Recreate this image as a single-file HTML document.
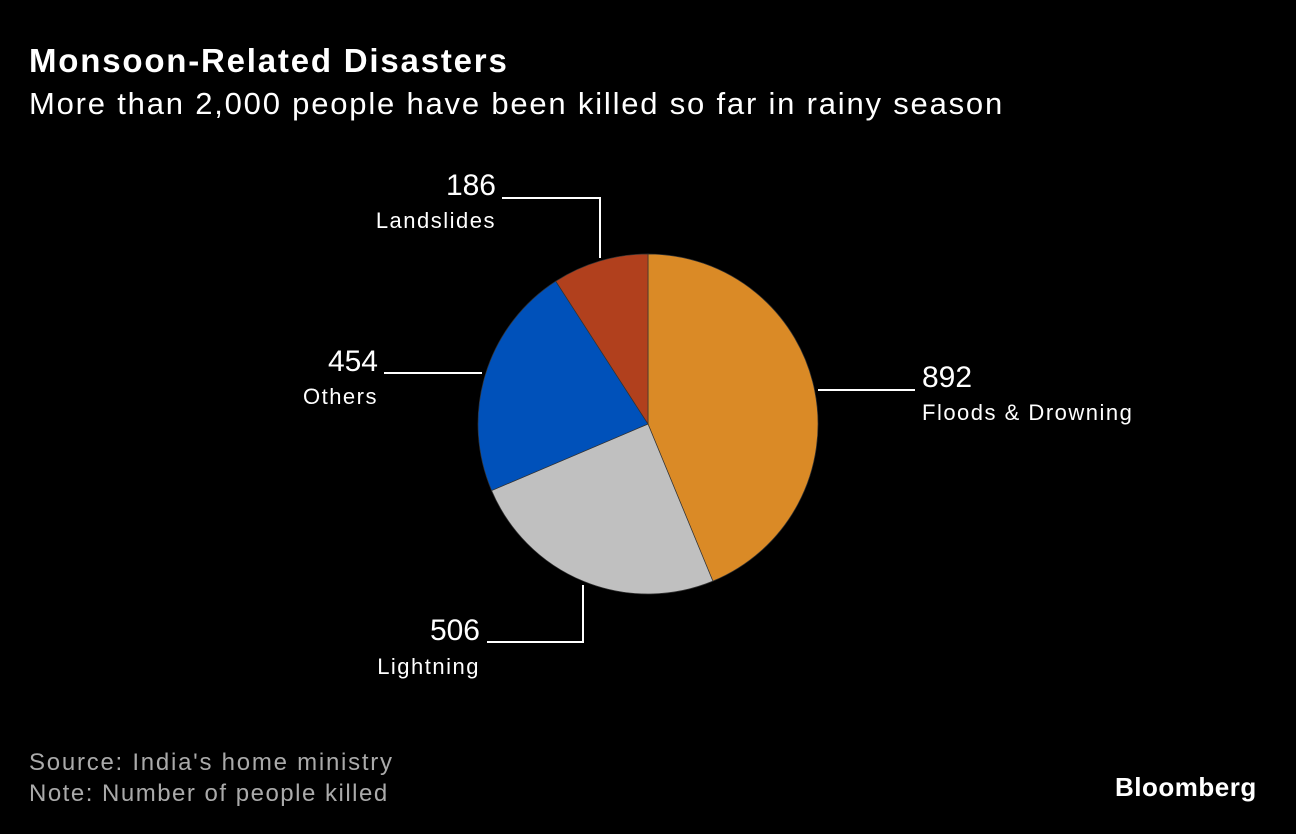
<!DOCTYPE html>
<html><head><meta charset="utf-8"><style>
html,body{margin:0;padding:0;background:#000;}
body{width:1296px;height:834px;position:relative;overflow:hidden;font-family:"Liberation Sans",sans-serif;color:#fff;}
.t{position:absolute;white-space:nowrap;}
</style></head><body>
<div class="t" style="left:29px;top:42px;font-size:33px;font-weight:bold;letter-spacing:1.8px;">Monsoon-Related Disasters</div>
<div class="t" style="left:29px;top:86px;font-size:31px;letter-spacing:1.8px;">More than 2,000 people have been killed so far in rainy season</div>
<svg width="1296" height="834" style="position:absolute;left:0;top:0" id="svg"></svg>
<div class="t" style="left:29px;top:749px;font-size:24px;color:#aaa;letter-spacing:1.75px;">Source: India's home ministry</div>
<div class="t" style="left:29px;top:780px;font-size:24px;color:#aaa;letter-spacing:1.5px;">Note: Number of people killed</div>
<div class="t" style="left:1115px;top:772px;font-size:26px;font-weight:bold;letter-spacing:0.5px;">Bloomberg</div>
<script>
const categories=["Floods & Drowning","Lightning","Others","Landslides"];
const values=[892,506,454,186];
const colors=["#DA8A26","#C0C0C0","#0051BA","#B1401D"];
const svg=document.getElementById('svg');
const NS="http://www.w3.org/2000/svg";
const cx=648,cy=424,r=170;
const total=values.reduce((a,b)=>a+b,0);
function pt(a,rr){return [cx+rr*Math.sin(a),cy-rr*Math.cos(a)];}
let a0=0;
values.forEach((v,i)=>{
  const a1=a0+v/total*2*Math.PI;
  const p0=pt(a0,r),p1=pt(a1,r);
  const large=(a1-a0)>Math.PI?1:0;
  const p=document.createElementNS(NS,'path');
  p.setAttribute('d',`M${cx},${cy}L${p0[0]},${p0[1]}A${r},${r} 0 ${large} 1 ${p1[0]},${p1[1]}Z`);
  p.setAttribute('fill',colors[i]);
  p.setAttribute('stroke','#333');
  p.setAttribute('stroke-width','0.7');
  
  
  svg.appendChild(p);
  a0=a1;
});
const layouts=[
 {line:"M818,390H915",vx:922,vy:387,lx:922,ly:420,anchor:"start"},
 {line:"M583,585V642H487",vx:480,vy:640,lx:480,ly:674,anchor:"end"},
 {line:"M482,373H384",vx:378,vy:371,lx:378,ly:404,anchor:"end"},
 {line:"M600,258V198H502",vx:496,vy:195,lx:496,ly:228,anchor:"end"}
];
values.forEach((v,i)=>{
  const L=layouts[i];
  const l=document.createElementNS(NS,'path');
  l.setAttribute('d',L.line);l.setAttribute('stroke','#fff');l.setAttribute('stroke-width','2');l.setAttribute('fill','none');
  
  
  svg.appendChild(l);
  const t1=document.createElementNS(NS,'text');
  t1.setAttribute('x',L.vx);t1.setAttribute('y',L.vy);t1.setAttribute('text-anchor',L.anchor);
  t1.setAttribute('fill','#fff');t1.setAttribute('font-size','30');t1.setAttribute('font-family','Liberation Sans, sans-serif');
  t1.textContent=v;
  
  
  svg.appendChild(t1);
  const t2=document.createElementNS(NS,'text');
  t2.setAttribute('x',L.lx);t2.setAttribute('y',L.ly);t2.setAttribute('text-anchor',L.anchor);
  t2.setAttribute('fill','#fff');t2.setAttribute('font-size','22');t2.setAttribute('font-family','Liberation Sans, sans-serif');
  t2.setAttribute('letter-spacing','1.5');
  t2.textContent=categories[i];
  
  
  svg.appendChild(t2);
});
</script>
</body></html>
